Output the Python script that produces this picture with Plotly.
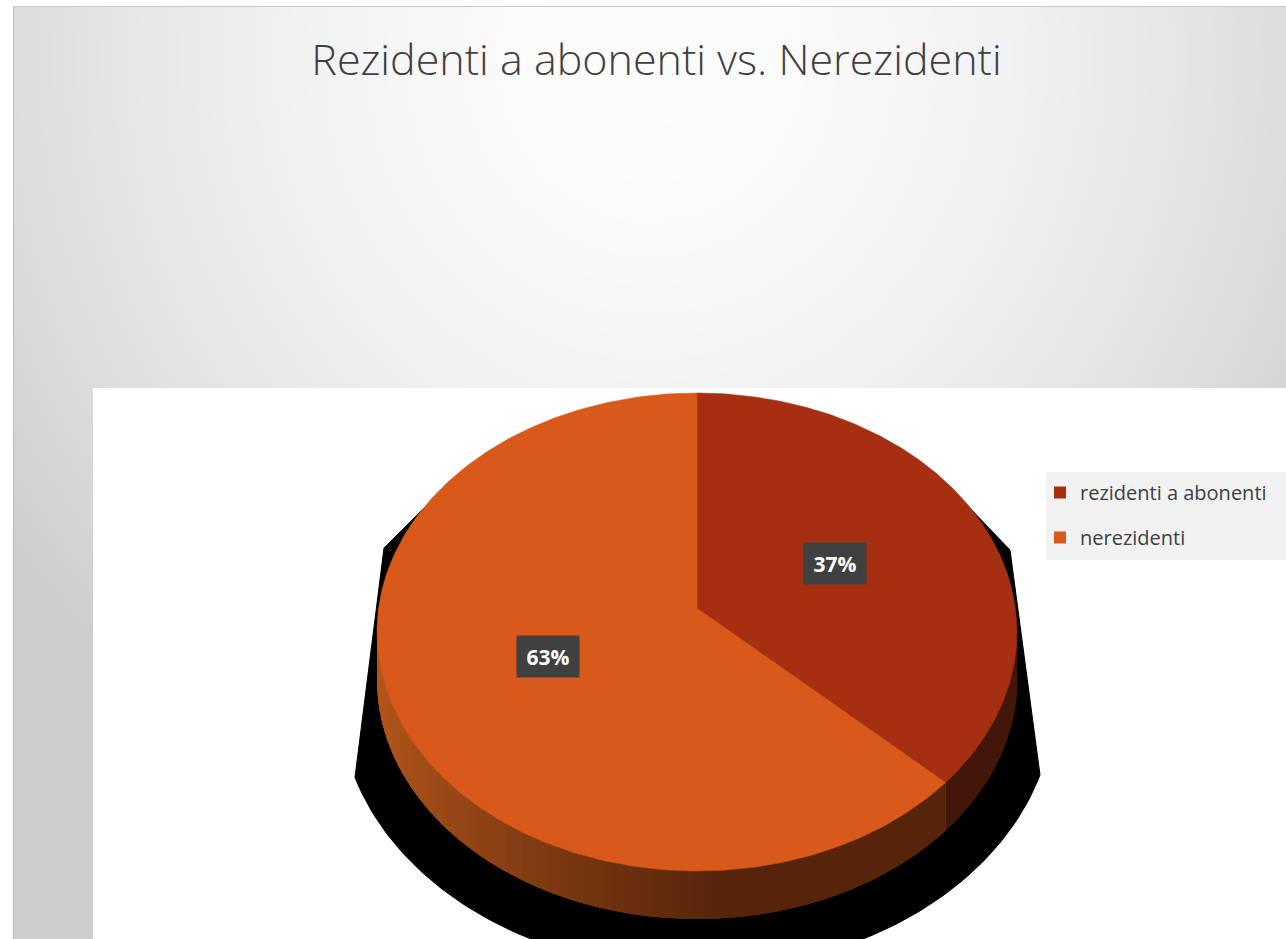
import numpy as np
import plotly.graph_objects as go
import zlib, struct, base64

# ---------------- data ----------------
categories = ["rezidenti a abonenti", "nerezidenti"]
values = [37, 63]
top_colors = ["#a72f11", "#d8591a"]
title_text = "Rezidenti a abonenti vs. Nerezidenti"

# ---------------- geometry / style constants ----------------
W, H = 1286, 939
EX, EY, RX, RY = 697.0, 632.0, 320.0, 239.0   # top-face ellipse
CX, CY = 697.0, 608.0                          # apparent pie centre (perspective)
DEPTH = 48.0
LABEL_FRAC = 0.49


def rim(phi_deg, frac=1.0):
    p = np.radians(np.asarray(phi_deg, dtype=float))
    s, c = np.sin(p), np.cos(p)
    oy = (CY - EY) / RY
    b = 2 * oy * (-c)
    cc = oy * oy - 1
    t = (-b + np.sqrt(b * b - 4 * cc)) / 2 * frac
    return CX + t * s * RX, CY - t * c * RY


# --------------- background image (gradient frame) ---------------
def make_background():
    yy, xx = np.mgrid[0:H, 0:W].astype(float)
    d = np.sqrt(((xx - 650) * 1.05) ** 2 + (yy - 60) ** 2)
    shade = 252 - 46 * np.clip(d / 820.0, 0, 1) ** 1.8
    img = np.full((H, W), 255.0)
    frame = (xx >= 13) & (yy >= 6)
    img[frame] = shade[frame]
    img[(xx >= 93) & (yy >= 388)] = 255
    img[(yy == 6) & (xx >= 13)] = 200
    img[(xx == 13) & (yy >= 6)] = 190
    raw = np.clip(np.round(img), 0, 255).astype(np.uint8)
    filt = np.empty((H, W + 1), dtype=np.uint8)
    filt[:, 0] = 2
    filt[0, 1:] = raw[0]
    filt[1:, 1:] = ((raw[1:].astype(np.int16) - raw[:-1].astype(np.int16)) % 256).astype(np.uint8)
    data = zlib.compress(filt.tobytes(), 9)

    def chunk(tag, body):
        return struct.pack(">I", len(body)) + tag + body + struct.pack(">I", zlib.crc32(tag + body) & 0xFFFFFFFF)

    png = b"\x89PNG\r\n\x1a\n" + chunk(b"IHDR", struct.pack(">IIBBBBB", W, H, 8, 0, 0, 0, 0)) \
        + chunk(b"IDAT", data) + chunk(b"IEND", b"")
    return "data:image/png;base64," + base64.b64encode(png).decode()


def hex2rgb(h):
    h = h.lstrip("#")
    return np.array([int(h[i:i + 2], 16) for i in (0, 2, 4)], dtype=float)


def rgb2hex(c):
    c = np.clip(np.round(c), 0, 255).astype(int)
    return "#%02x%02x%02x" % tuple(c)


side_light = hex2rgb("#b4571b")
side_dark = hex2rgb("#56240b")
red_side = "#42170a"

fig = go.Figure()

# ---------------- shadow ----------------
psi_r = np.degrees(np.arccos((1040 - 697) / 357.0))
psi_l = 180 - np.degrees(np.arccos((697 - 355) / 357.0))
psi = np.linspace(psi_r, psi_l, 120)
sx = list(697 + 357 * np.cos(np.radians(psi)))
sy = list(700 + 270 * np.sin(np.radians(psi)))
sx = [1010] + sx + [384, 430, 697, 965, 1010]
sy = [550] + sy + [548, 502, 520, 503, 550]
fig.add_trace(go.Scatter(x=sx, y=sy, mode="lines", fill="toself", fillcolor="#000000",
                         line=dict(color="#000000", width=1), hoverinfo="skip", showlegend=False))

# ---------------- slices ----------------
total = float(sum(values))
phi_R = 180 - np.degrees(np.arctan2(RY, EY - CY))
phi_L = 360 - phi_R
starts, ends = [], []
acc = 0.0
for v in values:
    starts.append(acc)
    acc += 360.0 * v / total
    ends.append(acc)


def side_poly(p0, p1, n=40):
    ph = np.linspace(p0, p1, n)
    tx, ty = rim(ph)
    return list(tx) + list(tx[::-1]), list(ty) + list((ty + DEPTH)[::-1]), tx


# side faces
for i, (a0, a1) in enumerate(zip(starts, ends)):
    s0, s1 = max(a0, phi_R), min(a1, phi_L)
    if s1 <= s0:
        continue
    if i == 0:
        px, py, _ = side_poly(s0, s1, 120)
        fig.add_trace(go.Scatter(x=px, y=py, mode="lines", fill="toself", fillcolor=red_side,
                                 line=dict(color=red_side, width=1), hoverinfo="skip", showlegend=False))
        continue
    # base layer to hide seams
    px, py, _ = side_poly(s0, s1, 200)
    base = rgb2hex((side_light + side_dark) / 2)
    fig.add_trace(go.Scatter(x=px, y=py, mode="lines", fill="toself", fillcolor=base,
                             line=dict(width=0), hoverinfo="skip", showlegend=False))
    nseg = 80
    edges = np.linspace(s0, s1, nseg + 1)
    step = edges[1] - edges[0]
    for k in range(nseg):
        e1 = min(edges[k + 1] + step * 0.6, s1)
        px, py, tx = side_poly(edges[k], e1, 12)
        t = np.clip((tx.mean() - (EX - RX)) / 345.0, 0, 1) ** 0.75
        col = rgb2hex(side_light + (side_dark - side_light) * t)
        fig.add_trace(go.Scatter(x=px, y=py, mode="lines", fill="toself", fillcolor=col,
                                 line=dict(width=0), hoverinfo="skip", showlegend=False))

# top faces
for i, (a0, a1) in enumerate(zip(starts, ends)):
    ph = np.linspace(a0, a1, 300)
    tx, ty = rim(ph)
    px = [CX] + list(tx) + [CX]
    py = [CY] + list(ty) + [CY]
    fig.add_trace(go.Scatter(x=px, y=py, mode="lines", fill="toself", fillcolor=top_colors[i],
                             line=dict(color=top_colors[i], width=0.5), hoverinfo="skip", showlegend=False))

# legend entries
for i, cat in enumerate(categories):
    fig.add_trace(go.Scatter(x=[None], y=[None], mode="markers", name=cat, legendgroup=cat,
                             marker=dict(symbol="square", size=12, color=top_colors[i])))

# data labels
annotations = []
for v, a0, a1 in zip(values, starts, ends):
    lx, ly = rim((a0 + a1) / 2, LABEL_FRAC)
    annotations.append(dict(x=float(lx), y=float(ly), xref="x", yref="y", showarrow=False,
                            text=f"{round(v / total * 100)}%",
                            font=dict(family="Open Sans", size=21, color="#ffffff", weight="bold"),
                            bgcolor="#404040", borderpad=7, width=48, height=27))

fig.update_layout(
    width=W, height=H,
    margin=dict(l=0, r=0, t=0, b=0, pad=0),
    paper_bgcolor="#ffffff",
    plot_bgcolor="rgba(0,0,0,0)",
    xaxis=dict(range=[0, W], visible=False, fixedrange=True),
    yaxis=dict(range=[H, 0], visible=False, fixedrange=True),
    images=[dict(source=make_background(), xref="paper", yref="paper", x=0, y=1,
                 sizex=1, sizey=1, xanchor="left", yanchor="top", sizing="stretch", layer="below")],
    shapes=[dict(type="rect", xref="x", yref="y", x0=1046, x1=1286, y0=472, y1=560,
                 fillcolor="#f2f2f2", line=dict(width=0), layer="below")],
    title=dict(text=title_text, x=656.5 / W, xanchor="center", y=1 - 60 / H, yanchor="middle",
               font=dict(family="Open Sans", size=43, color="#404040", weight=300)),
    legend=dict(x=1040 / W, y=1 - 473 / H, xanchor="left", yanchor="top",
                bgcolor="rgba(0,0,0,0)", font=dict(family="Open Sans", size=20, color="#404040"),
                traceorder="grouped", tracegroupgap=16),
    annotations=annotations,
    showlegend=True,
)

fig.write_html("out.html", config={"displayModeBar": False},
               post_script="document.body.style.margin='0';document.body.style.overflow='hidden';")
